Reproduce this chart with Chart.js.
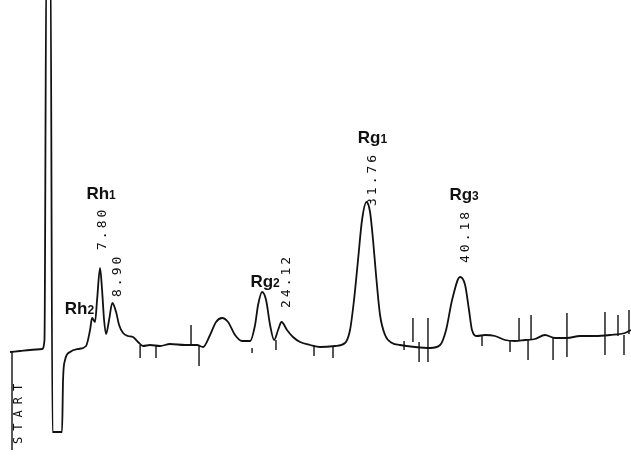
<!DOCTYPE html>
<html>
<head>
<meta charset="utf-8">
<script src="https://cdn.jsdelivr.net/npm/chart.js@4"></script>
<style>
  body { margin: 0; background: #fff; }
  #wrap { width: 631px; height: 463px; }
</style>
</head>
<body>
<div id="wrap"><canvas id="chromChart" width="631" height="463"></canvas></div>
<script>
// retention time (min) and detector signal (relative units, baseline ~ 0)
let traceTimes = [-0.30, 0.60, 1.50, 2.58, 2.80, 2.98, 3.34, 3.52, 4.38, 4.47, 4.65, 5.10, 5.82, 6.54,
  6.90, 7.08, 7.35, 7.53, 7.80, 7.98, 8.16, 8.34, 8.61, 8.90, 9.24, 9.51, 9.87, 10.31, 10.76, 11.21,
  11.66, 12.29, 13.19, 14.09, 15.44, 16.52, 17.06, 17.69, 18.23, 18.77, 19.31, 19.94, 20.57, 21.29,
  21.74, 22.01, 22.37, 22.73, 23.09, 23.45, 23.81, 24.12, 24.61, 25.15, 25.79, 26.69, 27.58, 28.93,
  29.83, 30.28, 30.64, 31.00, 31.36, 31.76, 32.08, 32.35, 32.62, 32.98, 33.43, 34.06, 34.78, 36.13,
  37.48, 38.38, 38.92, 39.46, 40.18, 40.63, 40.98, 41.25, 41.70, 42.42, 43.32, 44.22, 45.11, 46.01,
  46.91, 47.81, 48.71, 49.79, 50.96, 52.31, 53.66, 55.01, 55.55];
let traceSignal = [-5, -4, -3, -2, 7, 400, 400, -85, -85, -33, -13, -5, -2, 1,
  17, 29, 25, 47, 79, 57, 27, 13, 27, 44, 35, 22, 14, 11, 10, 5,
  1, 2, 1, 3, 2, 2, 0, 12, 25, 29, 25, 12, 6, 6,
  22, 42, 55, 47, 22, 7, 17, 25, 17, 10, 5, 2, 0, 1,
  4, 17, 47, 87, 127, 145, 135, 107, 72, 32, 12, 4, 2, 0,
  -1, 2, 17, 47, 70, 62, 37, 17, 11, 12, 11, 7, 6, 7,
  8, 12, 9, 9, 11, 11, 12, 14, 17];

// integrator event marks: time, upper and lower signal
let markTimes = [-0.12, 11.40, 12.83, 15.98, 16.70, 21.47, 23.62, 27.04, 28.75, 35.14, 35.94, 36.49,
  37.29, 42.15, 44.67, 45.48, 46.29, 46.56, 48.54, 49.79, 53.21, 54.38, 54.92, 55.37];
let markTops = [-5, 2, 2, 22, 2, -1, 7, 2, 1, 6, 29, 5, 29, 11, 7, 29, 7, 32, 9, 34, 35, 32, 12, 37];
let markBottoms = [-103, -11, -11, 2, -19, -6, -3, -9, -11, -3, 5, -15, -15, 1, -5, 6, -13, 7, -13, -10, -8, 11, -8, 13];

// peak names and printed retention times
let peakNames = ['Rh', 'Rh', 'Rg', 'Rg', 'Rg'];
let peakSubs = ['2', '1', '2', '1', '3'];
let peakTimes = [7.08, 7.80, 22.37, 31.76, 40.18];
let rtLabels = ['7.80', '8.90', '24.12', '31.76', '40.18'];
let rtTimes = [7.80, 8.90, 24.12, 31.76, 40.18];

function signalAt(t) {
  let i = traceTimes.indexOf(t);
  return i >= 0 ? traceSignal[i] : 0;
}

let tracePoints = traceTimes.map((t, i) => ({ x: t, y: traceSignal[i] }));
let markPoints = [];
markTimes.forEach((t, i) => {
  markPoints.push({ x: t, y: markTops[i] });
  markPoints.push({ x: t, y: markBottoms[i] });
  markPoints.push({ x: t, y: null });
});

// text offsets in px from the peak apex
let nameOffsets = [[2, -4, 'right'], [1, -69, 'center'], [3, -5, 'center'], [6, -59, 'center'], [4, -77, 'center']];
let rtOffsets = [[3, -18], [5, -6], [5, -14], [6, 4], [6, -14]];

const labelPlugin = {
  id: 'labels',
  afterDatasetsDraw(chart) {
    let ctx = chart.ctx;
    let xs = chart.scales.x;
    let ys = chart.scales.y;
    ctx.save();
    ctx.fillStyle = '#111';

    // peak names with small index digit
    peakTimes.forEach((t, i) => {
      let px = xs.getPixelForValue(t) + nameOffsets[i][0];
      let py = ys.getPixelForValue(signalAt(t)) + nameOffsets[i][1];
      let big = 'bold 17px "Liberation Sans Narrow", "Arial Narrow", sans-serif';
      let small = 'bold 12px "Liberation Sans Narrow", "Arial Narrow", sans-serif';
      ctx.font = big;
      let w1 = ctx.measureText(peakNames[i]).width;
      ctx.font = small;
      let w2 = ctx.measureText(peakSubs[i]).width;
      let left = px - (w1 + w2) / 2;
      if (nameOffsets[i][2] === 'right') left = px - w1 - w2;
      ctx.textBaseline = 'alphabetic';
      ctx.textAlign = 'left';
      ctx.font = big;
      ctx.fillText(peakNames[i], left, py);
      ctx.font = small;
      ctx.fillText(peakSubs[i], left + w1, py);
    });

    // rotated retention times
    ctx.font = '13px "DejaVu Sans Mono", monospace';
    ctx.letterSpacing = '3px';
    rtTimes.forEach((t, i) => {
      let px = xs.getPixelForValue(t) + rtOffsets[i][0];
      let py = ys.getPixelForValue(signalAt(t)) + rtOffsets[i][1];
      ctx.save();
      ctx.translate(px, py);
      ctx.rotate(-Math.PI / 2);
      ctx.textAlign = 'left';
      ctx.textBaseline = 'middle';
      ctx.fillText(rtLabels[i], 0, 0);
      ctx.restore();
    });

    // START marker text
    ctx.font = '12px "DejaVu Sans Mono", monospace';
    ctx.letterSpacing = '6px';
    ctx.save();
    ctx.translate(xs.getPixelForValue(markTimes[0]) + 7, ys.getPixelForValue(markBottoms[0]) - 6);
    ctx.rotate(-Math.PI / 2);
    ctx.textAlign = 'left';
    ctx.textBaseline = 'middle';
    ctx.fillText('START', 0, 0);
    ctx.restore();
    ctx.restore();
  }
};

let ctx = document.getElementById('chromChart').getContext('2d');
new Chart(ctx, {
  type: 'scatter',
  data: {
    datasets: [{
      data: tracePoints,
      showLine: true,
      borderColor: '#111',
      borderWidth: 1.8,
      pointRadius: 0,
      cubicInterpolationMode: 'monotone'
    }, {
      data: markPoints,
      showLine: true,
      spanGaps: false,
      borderColor: '#111',
      borderWidth: 1.4,
      pointRadius: 0
    }]
  },
  options: {
    responsive: false,
    animation: false,
    layout: { padding: 0 },
    plugins: { legend: { display: false }, tooltip: { enabled: false } },
    scales: {
      x: { type: 'linear', min: -1.2, max: 55.55, display: false },
      y: { min: -116, max: 347, display: false }
    }
  },
  plugins: [labelPlugin]
});
</script>
</body>
</html>
